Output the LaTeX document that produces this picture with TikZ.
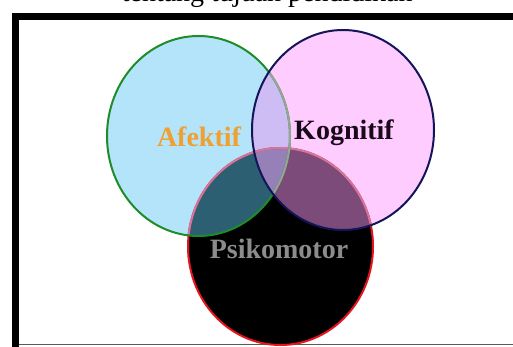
\documentclass[tikz,border=0pt]{standalone}
\usepackage{fontspec}
\setmainfont{Liberation Serif}
\definecolor{afill}{RGB}{180,228,250}
\definecolor{kfill}{RGB}{255,204,255}
\definecolor{akfill}{RGB}{206,188,244}
\definecolor{apfill}{RGB}{45,95,115}
\definecolor{kpfill}{RGB}{125,75,122}
\definecolor{akpfill}{RGB}{150,128,184}
\definecolor{aline}{RGB}{30,140,40}
\definecolor{akline}{RGB}{150,165,150}
\definecolor{kline}{RGB}{20,20,90}
\definecolor{pline}{RGB}{230,20,30}
\definecolor{pmuted}{RGB}{205,120,160}
\definecolor{afcol}{RGB}{240,160,50}
\definecolor{kgcol}{RGB}{25,10,25}
\definecolor{pscol}{RGB}{140,140,140}
\definecolor{framegray}{RGB}{90,90,90}
\tikzset{
  lbl/.style={font=\fontsize{28}{30}\selectfont\bfseries, inner sep=0pt, anchor=base},
  ring/.style={line width=2pt},
}
\def\pathA{(198.5,136) ellipse [x radius=91.5pt, y radius=100pt]}
\def\pathK{(343,130) ellipse [x radius=91pt, y radius=100pt]}
\def\pathP{(280.5,246.5) ellipse [x radius=92.5pt, y radius=98.5pt]}
\begin{document}
\begin{tikzpicture}[x=1pt,y=-1pt]
\useasboundingbox (0,0) rectangle (513,347);
\clip (0,0) rectangle (513,347);
\fill[white] (0,0) rectangle (513,347);
% cropped caption line above the frame (only its lower part shows)
\node[font=\fontsize{28}{30}\selectfont, inner sep=0pt, anchor=base west] (caption) at (121.6,1.5) {tentang tujuan pendidikan};
% frame
\fill[black] (12.3,13) rectangle (19,347);
\fill[black] (12.3,13) rectangle (513,20.5);
\draw[framegray, line width=1pt] (19,344.5) -- (513,344.5);
% region fills
\fill[afill] \pathA;
\fill[kfill] \pathK;
\begin{scope}
  \clip \pathA;
  \fill[akfill] \pathK;
\end{scope}
\fill[black] \pathP;
\begin{scope}
  \clip \pathP;
  \fill[apfill] \pathA;
  \fill[kpfill] \pathK;
  \clip \pathA;
  \fill[akpfill] \pathK;
\end{scope}
% outlines
\draw[ring, pline] \pathP;
\begin{scope}
  \clip \pathA;
  \draw[ring, pmuted] \pathP;
\end{scope}
\begin{scope}
  \clip \pathK;
  \draw[ring, pmuted] \pathP;
\end{scope}
\draw[ring, aline] \pathA;
\begin{scope}
  \clip \pathK;
  \draw[ring, akline] \pathA;
\end{scope}
\draw[ring, kline] \pathK;
% labels
\node[lbl, text=afcol] (afektif) at (199,147) {Afektif};
\node[lbl, text=kgcol] (kognitif) at (344,140) {Kognitif};
\node[lbl, text=pscol] (psikomotor) at (279,258) {Psikomotor};
\end{tikzpicture}
\end{document}
